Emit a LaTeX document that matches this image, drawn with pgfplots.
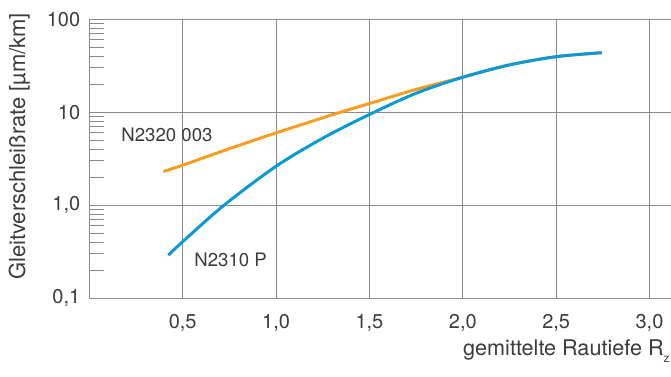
\documentclass[border=0pt]{standalone}
\usepackage{fontspec}
\setmainfont{TeX Gyre Heros}
\usepackage{pgfplots}
\pgfplotsset{compat=1.18}

\definecolor{gridgray}{HTML}{8A8A8A}
\definecolor{txtgray}{HTML}{3C3C3C}
\definecolor{curveorange}{HTML}{F59E22}
\definecolor{curveblue}{HTML}{0A99D5}

\begin{document}
\begin{tikzpicture}
\begin{axis}[
  name=ax,
  scale only axis,
  width=290.8pt, height=139.35pt,
  xmin=0, xmax=3.115,
  ymode=log, ymin=0.1, ymax=100,
  axis x line*=bottom, axis y line*=left,
  axis line style={gridgray, line width=0.5pt, -},
  xtick={0.5,1,1.5,2,2.5,3},
  ytick={0.1,1,10,100},
  yticklabels={{0,1},{1,0},10,100},
  /pgf/number format/.cd, use comma, fixed, fixed zerofill, precision=1,
  assume math mode=true,
  /pgfplots/.cd,
  ticklabel style={font=\fontsize{10}{12}\selectfont, text=txtgray},
  xticklabel style={yshift=-4.5pt},
  yticklabel style={xshift=-1pt},
  grid=major,
  major grid style={gridgray, line width=0.5pt},
  major tick length=0pt,
  minor tick length=7.5pt,
  tick align=inside,
  xminorticks=false,
  tick style={gridgray, line width=0.5pt},
  clip=false,
]
% N2320 003
\addplot[curveorange, line width=1.5pt, smooth] coordinates {
  (0.396,2.30) (0.5,2.69) (0.75,4.05) (1.0,6.0) (1.25,8.7) (1.344,10.0)
  (1.5,12.4) (1.75,17.6) (2.0,23.8) (2.25,32.3) (2.5,39.6) (2.744,43.7)
};
% N2310 P
\addplot[curveblue, line width=1.5pt, smooth] coordinates {
  (0.423,0.290) (0.5,0.404) (0.722,1.0) (1.0,2.62) (1.25,5.25) (1.5,9.45)
  (1.75,16.0) (2.0,23.8) (2.25,32.3) (2.5,39.6) (2.744,43.7)
};
\node[anchor=west, text=txtgray, font=\fontsize{9.3}{11}\selectfont, inner sep=0pt]
  at (axis cs:0.170,5.76) {N2320 003};
\node[anchor=west, text=txtgray, font=\fontsize{9.3}{11}\selectfont, inner sep=0pt]
  at (axis cs:0.561,0.256) {N2310 P};
\end{axis}
% axis titles
\node[anchor=base east, text=txtgray, font=\fontsize{10.8}{12}\selectfont, inner sep=0pt]
  at ([shift={(-0.5pt,-28.5pt)}]ax.south east)
  {gemittelte Rautiefe R\raisebox{-3.8pt}{\fontsize{6}{6}\selectfont z}};
\node[anchor=base, rotate=90, text=txtgray, font=\fontsize{11}{12}\selectfont, inner sep=0pt]
  at ([shift={(-32.15pt,75.75pt)}]ax.south west) {Gleitverschleißrate [µm/km]};
\pgfresetboundingbox
\path[use as bounding box] ([shift={(-44.65pt,-39pt)}]ax.south west)
  rectangle ([shift={(0pt,9.65pt)}]ax.north east);
\end{tikzpicture}
\end{document}
